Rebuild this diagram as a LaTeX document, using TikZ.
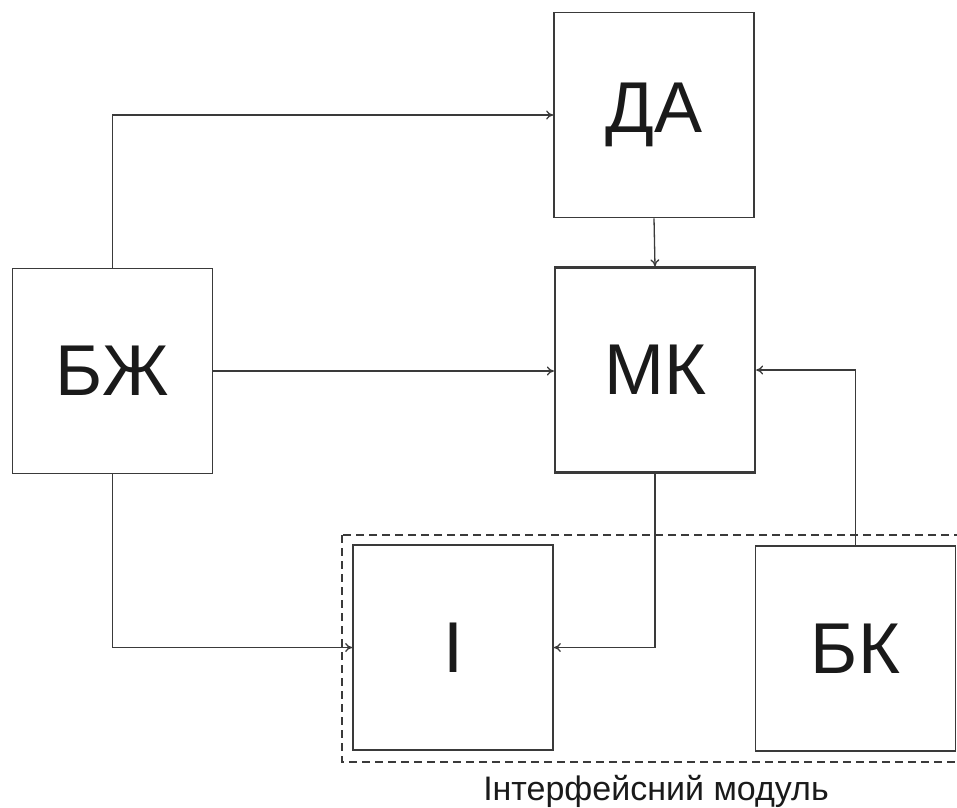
\documentclass[tikz,border=0pt]{standalone}
\usepackage{fontspec}
\setmainfont{Liberation Sans}
\usetikzlibrary{arrows.meta}
\definecolor{lnc}{HTML}{3A3A3A}
\definecolor{txc}{HTML}{1A1A1A}
\tikzset{
  blockbox/.style={draw=lnc, line width=1.8pt, inner sep=0pt, minimum width=200pt, minimum height=205pt, text=txc, font=\fontsize{72}{72}\selectfont},
  conn/.style={draw=lnc, line width=1.3pt, -{To[length=7pt,width=9pt]}},
  groupbox/.style={draw=lnc, line width=1.6pt, dash pattern=on 8pt off 5pt}
}
\begin{document}
\begin{tikzpicture}[x=1pt,y=-1pt]
\useasboundingbox (0,0) rectangle (957,807);
\node[blockbox] (da) at (654,115) {ДА};
\node[blockbox] (bzh) at (112.5,371) {БЖ};
\node[blockbox, line width=2.3pt] (mk) at (655,370) {МК};
\node[blockbox] (i) at (453,647.5) {І};
\node[blockbox] (bk) at (855.5,648.5) {БК};
\draw[groupbox] (342,535) rectangle (958,762);
\node[anchor=base, text=txc, font=\fontsize{34}{34}\selectfont] (lbl) at (656,800) {Інтерфейсний модуль};
\draw[conn] (bzh.north) |- (da.west);
\draw[conn] (bzh.east) -- (bzh.east -| mk.west);
\draw[conn] (da.south) -- (mk.north);
\draw[conn] (bzh.south) |- (i.west);
\draw[conn] (mk.south) |- (i.east);
\draw[conn] (bk.north) |- (mk.east);
\end{tikzpicture}
\end{document}
